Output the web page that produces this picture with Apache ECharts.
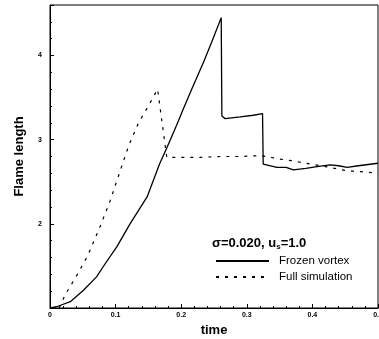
<!DOCTYPE html>
<html>
<head>
<meta charset="utf-8">
<script src="https://cdn.jsdelivr.net/npm/echarts@6/dist/echarts.min.js"></script>
<style>
  html, body { margin: 0; padding: 0; background: #fff; }
  #chart { width: 379px; height: 339px; }
</style>
</head>
<body>
<div id="chart"></div>
<script>
// Frozen vortex (solid)
const frozenTime = [0, 0.01, 0.031, 0.051, 0.071, 0.081, 0.102, 0.122, 0.148, 0.167, 0.178, 0.193, 0.2035, 0.216,
  0.234, 0.247, 0.261, 0.262, 0.267, 0.29, 0.31, 0.324, 0.325, 0.346, 0.36, 0.371, 0.39, 0.407, 0.427, 0.44, 0.453,
  0.47, 0.5];
const frozenLength = [1.0, 1.015, 1.075, 1.21, 1.37, 1.49, 1.73, 2.0, 2.32, 2.71, 2.9, 3.17, 3.37, 3.6,
  3.92, 4.17, 4.45, 3.28, 3.25, 3.27, 3.29, 3.31, 2.71, 2.67, 2.67, 2.64, 2.66, 2.68, 2.7, 2.69, 2.67,
  2.69, 2.72];

// Full simulation (dashed)
const fullTime = [0.014, 0.023, 0.041, 0.058, 0.076, 0.092, 0.107, 0.12, 0.135, 0.15, 0.164, 0.178, 0.2, 0.23,
  0.26, 0.29, 0.32, 0.33, 0.35, 0.369, 0.39, 0.42, 0.453, 0.475, 0.5];
const fullLength = [1.0, 1.154, 1.39, 1.63, 1.96, 2.28, 2.63, 2.93, 3.2, 3.4, 3.6, 2.79, 2.79, 2.79,
  2.8, 2.8, 2.81, 2.8, 2.77, 2.75, 2.72, 2.68, 2.63, 2.62, 2.6];

const xTicks = [0, 0.1, 0.2, 0.3, 0.4, 0.5];
const yTicks = [2, 3, 4];

const zip = (xs, ys) => xs.map((x, i) => [x, ys[i]]);

const chart = echarts.init(document.getElementById("chart"));

const axisFont = { color: "#000", fontSize: 7, fontWeight: "bold", fontFamily: "Liberation Sans" };

chart.setOption({
  animation: false,
  backgroundColor: "#fff",
  title: {
    text: "σ=0.020, u{sub|s}=1.0",
    left: 212,
    top: 235,
    padding: 0,
    textStyle: {
      fontSize: 13,
      fontWeight: "bold",
      color: "#000",
      fontFamily: "Liberation Sans",
      rich: { sub: { fontSize: 8, fontWeight: "bold", verticalAlign: "bottom", padding: [8, 0, 0, 0], color: "#000" } },
    },
  },
  legend: {
    orient: "vertical",
    left: 215,
    top: 255,
    padding: 0,
    itemWidth: 53,
    itemHeight: 10,
    itemGap: 4,
    itemStyle: { opacity: 0 },
    textStyle: { fontSize: 11.5, color: "#000", fontFamily: "Liberation Sans", padding: [0, 0, 0, 5] },
    data: ["Frozen vortex", "Full simulation"],
  },
  grid: {
    left: 50,
    right: 1,
    top: 5,
    bottom: 31,
    containLabel: false,
    outerBoundsMode: "none",
    show: true,
    borderColor: "#000",
    borderWidth: 1,
  },
  xAxis: {
    type: "value",
    min: xTicks[0],
    max: xTicks[xTicks.length - 1],
    interval: 0.1,
    name: "time",
    nameLocation: "middle",
    nameGap: 16,
    nameTextStyle: { fontSize: 13, fontWeight: "bold", color: "#000", fontFamily: "Liberation Sans" },
    axisLine: { lineStyle: { color: "#000", width: 1 } },
    axisTick: { inside: true, length: 4, lineStyle: { color: "#000" } },
    minorTick: { show: true, splitNumber: 5, length: 2, lineStyle: { color: "#000" } },
    splitLine: { show: false },
    axisLabel: { ...axisFont, margin: 4, formatter: (v) => (v === 0 ? "0" : v.toFixed(1)) },
  },
  yAxis: {
    type: "value",
    min: 1,
    max: 4.6,
    interval: 1,
    name: "Flame length",
    nameLocation: "middle",
    nameGap: 24,
    nameTextStyle: { fontSize: 13, fontWeight: "bold", color: "#000", fontFamily: "Liberation Sans" },
    axisLine: { lineStyle: { color: "#000", width: 1 } },
    axisTick: { inside: true, length: 4, lineStyle: { color: "#000" } },
    minorTick: { show: true, splitNumber: 5, length: 2, lineStyle: { color: "#000" } },
    splitLine: { show: false },
    axisLabel: {
      ...axisFont,
      margin: 8,
      showMinLabel: false,
      showMaxLabel: false,
      formatter: (v) => (yTicks.includes(v) ? String(v) : ""),
    },
  },
  series: [
    {
      name: "Frozen vortex",
      type: "line",
      data: zip(frozenTime, frozenLength),
      symbol: "none",
      lineStyle: { color: "#000", width: 1.3 },
      itemStyle: { color: "#000" },
    },
    {
      name: "Full simulation",
      type: "line",
      data: zip(fullTime, fullLength),
      symbol: "none",
      lineStyle: { color: "#000", width: 1.2, type: [3, 6] },
      itemStyle: { color: "#000" },
    },
  ],
});
</script>
</body>
</html>
